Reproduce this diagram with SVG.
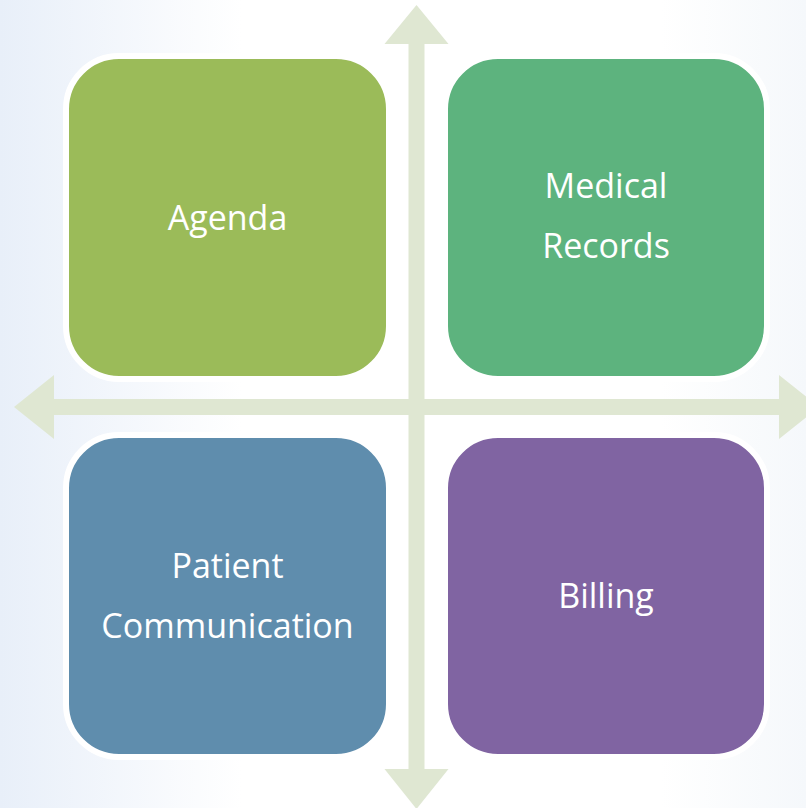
<svg xmlns="http://www.w3.org/2000/svg" width="806" height="808" viewBox="0 0 806 808">
  <defs>
    <linearGradient id="bg" x1="0" y1="0" x2="1" y2="0">
      <stop offset="0" stop-color="#e8eff9"/>
      <stop offset="0.3" stop-color="#ffffff"/>
      <stop offset="0.82" stop-color="#ffffff"/>
      <stop offset="1" stop-color="#f5f8fb"/>
    </linearGradient>
  </defs>
  <style>
    .box { stroke: #ffffff; stroke-width: 6; }
    .lbl { font-family: "Open Sans", "Noto Sans", "Liberation Sans", sans-serif; font-size: 34px; fill: #ffffff; text-anchor: middle; }
    .axis { fill: #dfe7d2; }
  </style>
  <rect x="0" y="0" width="806" height="808" fill="url(#bg)"/>

  <g id="connectors">
    <polygon class="axis" points="416.5,5 448.5,44 424.5,44 424.5,769 448.5,769 416.5,809 384.5,769 408.5,769 408.5,44 384.5,44"/>
    <polygon class="axis" points="14,407 54,375 54,399 779,399 779,375 819,407 779,439 779,415 54,415 54,439"/>
  </g>

  <g id="agenda">
    <rect class="box" x="66" y="56" width="323" height="323" rx="53" fill="#9bbb59"/>
    <text class="lbl" x="227.5" y="230">Agenda</text>
  </g>
  <g id="medical-records">
    <rect class="box" x="445" y="56" width="322" height="323" rx="53" fill="#5db37e"/>
    <text class="lbl" x="606" y="198">Medical</text>
    <text class="lbl" x="606" y="258">Records</text>
  </g>
  <g id="patient-communication">
    <rect class="box" x="66" y="435" width="323" height="322" rx="53" fill="#5f8dad"/>
    <text class="lbl" x="227.5" y="578">Patient</text>
    <text class="lbl" x="227.5" y="638">Communication</text>
  </g>
  <g id="billing">
    <rect class="box" x="445" y="435" width="322" height="322" rx="53" fill="#8064a2"/>
    <text class="lbl" x="606" y="608">Billing</text>
  </g>
</svg>
